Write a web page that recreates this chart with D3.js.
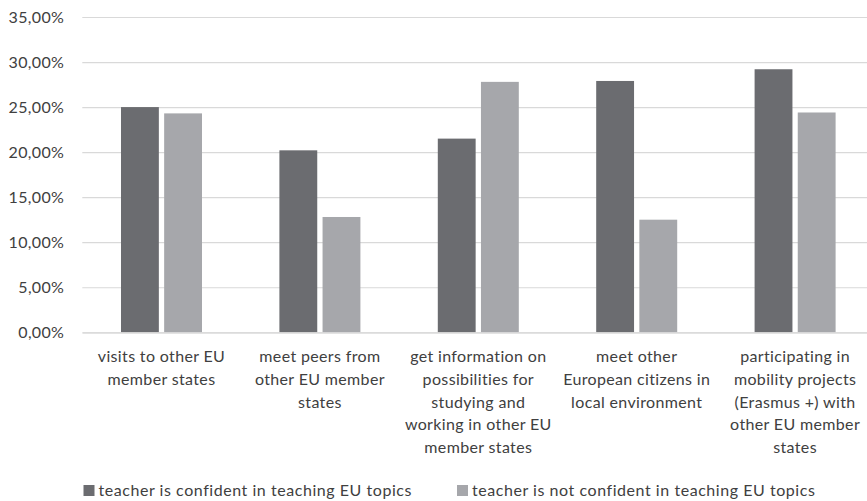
<!DOCTYPE html>
<html>
<head>
<meta charset="utf-8">
<script src="https://cdn.jsdelivr.net/npm/d3@7"></script>
<style>
  html, body { margin: 0; padding: 0; background: #fff; }
  svg { display: block; }
  svg text { font-family: Lato, sans-serif; letter-spacing: 0.35px; }
  svg .legend text { letter-spacing: 0.55px; }
</style>
</head>
<body>
<svg id="chart" width="867" height="501"></svg>
<script>
// Category labels, one entry per wrapped line
const categories = [
  ["visits to other EU", "member states"],
  ["meet peers from", "other EU member", "states"],
  ["get information on", "possibilities for", "studying and", "working in other EU", "member states"],
  ["meet other", "European citizens in", "local environment"],
  ["participating in", "mobility projects", "(Erasmus +) with", "other EU member", "states"]
];
const seriesNames = [
  "teacher is confident in teaching EU topics",
  "teacher is not confident in teaching EU topics"
];
const confident    = [25.0, 20.2, 21.5, 27.9, 29.2];
const notConfident = [24.3, 12.8, 27.8, 12.5, 24.4];
const yTicks = [0, 5, 10, 15, 20, 25, 30, 35];

const colors = ["#6b6c70", "#a6a7ab"];
const textColor = "#404040";
const fontSize = 16;

const svg = d3.select("#chart");
const plot = { left: 82.3, right: 874.3, top: 17, bottom: 332.3 };

const catKeys = categories.map((_, i) => i);
const x = d3.scaleBand()
  .domain(catKeys)
  .range([plot.left, plot.right])
  .paddingInner(0.4886)
  .paddingOuter(0.2443);

const xSub = d3.scaleBand()
  .domain([0, 1])
  .range([0, x.bandwidth()])
  .paddingInner(0.123);

const y = d3.scaleLinear().domain([0, 35]).range([plot.bottom, plot.top]);

const fmt = v => d3.format(".2f")(v).replace(".", ",") + "%";

// Horizontal gridlines and y tick labels
const yAxis = d3.axisLeft(y)
  .tickValues(yTicks)
  .tickFormat(fmt)
  .tickSize(-(plot.right - plot.left))
  .tickPadding(18);

const gy = svg.append("g")
  .attr("transform", `translate(${plot.left},0)`)
  .call(yAxis)
  .attr("font-family", null);
gy.select(".domain").remove();
gy.selectAll(".tick line").attr("stroke", "#d9d9d9").attr("stroke-width", 1.2);
gy.selectAll(".tick text")
  .attr("fill", textColor)
  .attr("font-size", fontSize);

// Bars
const values = [confident, notConfident];
const groups = svg.append("g").selectAll("g")
  .data(catKeys)
  .join("g")
  .attr("transform", d => `translate(${x(d)},0)`);

groups.selectAll("rect")
  .data(i => values.map((s, k) => ({ k, v: s[i] })))
  .join("rect")
  .attr("x", d => xSub(d.k))
  .attr("width", xSub.bandwidth())
  .attr("y", d => y(d.v))
  .attr("height", d => y(0) - y(d.v))
  .attr("fill", d => colors[d.k]);

// Category labels below the axis
const xAxis = d3.axisBottom(x).tickSize(0).tickFormat("");
const gx = svg.append("g")
  .attr("transform", `translate(0,${plot.bottom})`)
  .call(xAxis)
  .attr("font-family", null);
gx.select(".domain").attr("stroke", "#d9d9d9").attr("stroke-width", 1.2);

const lineH = 22.6;
gx.selectAll(".tick").each(function(d) {
  const t = d3.select(this).append("text")
    .attr("fill", textColor)
    .attr("font-size", fontSize)
    .attr("text-anchor", "middle");
  categories[d].forEach((line, j) => {
    t.append("tspan")
      .attr("x", 0)
      .attr("y", 30.2 + j * lineH)
      .text(line);
  });
});

// Legend
const legendX = [83.5, 457];
const legend = svg.append("g").attr("class", "legend").selectAll("g")
  .data(seriesNames)
  .join("g")
  .attr("transform", (d, i) => `translate(${legendX[i]},485)`);
legend.append("rect")
  .attr("width", 11).attr("height", 11)
  .attr("fill", (d, i) => colors[i]);
legend.append("text")
  .attr("x", 15).attr("y", 11)
  .attr("fill", textColor)
  .attr("font-size", fontSize)
  .text(d => d);
</script>
</body>
</html>
